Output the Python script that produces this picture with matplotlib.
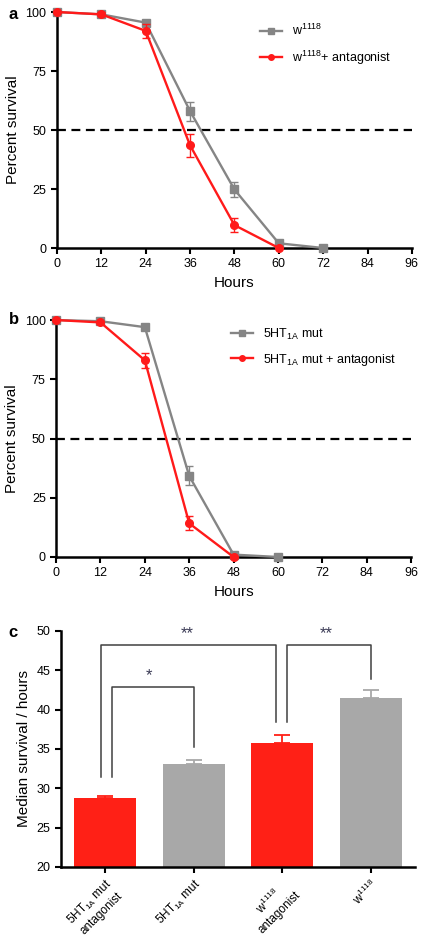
import matplotlib
matplotlib.use('Agg')
import matplotlib.pyplot as plt
from matplotlib.lines import Line2D
import numpy

plt.rcParams['font.family'] = ['Liberation Sans', 'DejaVu Sans']
plt.rcParams['mathtext.fontset'] = 'custom'
plt.rcParams['mathtext.rm'] = 'Liberation Sans'

GREY_LINE = '#858585'
RED = '#ff1a1a'
GREY_BAR = '#a8a8a8'
RED_BAR = '#ff2016'

# panel a
hours_a = [0, 12, 24, 36, 48, 60, 72]
w_surv = [100, 99, 95.5, 58, 24.8, 2, 0]
w_err = [0, 0.8, 1.2, 4, 3.2, 0, 0]
hours_a_ant = [0, 12, 24, 36, 48, 60]
w_ant_surv = [100, 99, 92, 43.5, 9.7, 0]
w_ant_err = [0, 0.8, 3, 4.8, 3, 0]

# panel b
hours_b = [0, 12, 24, 36, 48, 60]
mut_surv = [100, 99.5, 97, 34.2, 1, 0]
mut_err = [0, 0.5, 0.8, 4, 0, 0]
hours_b_ant = [0, 12, 24, 36, 48]
mut_ant_surv = [100, 99, 83, 14.2, 0]
mut_ant_err = [0, 0.5, 3.3, 3, 0]

# panel c
bar_labels = ['5HT$_{\\mathregular{1A}}$ mut\nantagonist', '5HT$_{\\mathregular{1A}}$ mut',
              'w$^{\\mathregular{1118}}$\nantagonist', 'w$^{\\mathregular{1118}}$']
medians = [28.8, 33.1, 35.8, 41.5]
median_err = [0.2, 0.45, 1.0, 1.0]
bar_colors = [RED_BAR, GREY_BAR, RED_BAR, GREY_BAR]


def style_axes(ax):
    for s in ['top', 'right']:
        ax.spines[s].set_visible(False)
    for s in ['left', 'bottom']:
        ax.spines[s].set_linewidth(1.8)
    ax.tick_params(width=1.5, length=4, labelsize=9, direction='out')


def survival_panel(ax, xg, yg, eg, xr, yr, er, lab_g, lab_r, legend_anchor):
    ax.axhline(50, color='black', ls=(0, (4, 2.5)), lw=1.6, zorder=1)
    ax.errorbar(xg, yg, yerr=eg, color=GREY_LINE, marker='s', ms=5.5, lw=1.7,
                capsize=3, elinewidth=1, zorder=3, clip_on=False)
    ax.errorbar(xr, yr, yerr=er, color=RED, marker='o', ms=5.5, lw=1.7,
                capsize=3, elinewidth=1, zorder=4, clip_on=False)
    ax.set_xlim(0, 96)
    ax.set_ylim(0, 100)
    ax.set_xticks(numpy.arange(0, 97, 12))
    ax.set_yticks([0, 25, 50, 75, 100])
    ax.set_xlabel('Hours', fontsize=11)
    ax.set_ylabel('Percent survival', fontsize=11)
    style_axes(ax)
    handles = [Line2D([], [], color=GREY_LINE, marker='s', ms=4, lw=1.7),
               Line2D([], [], color=RED, marker='o', ms=4, lw=1.7)]
    ax.legend(handles, [lab_g, lab_r], loc='upper left', bbox_to_anchor=legend_anchor,
              frameon=False, fontsize=9, handlelength=1.8, handletextpad=0.8,
              labelspacing=0.8)


fig = plt.figure(figsize=(4.22, 9.38), dpi=100)

axa = fig.add_axes([0.135, 0.7356, 0.841, 0.2516])
survival_panel(axa, hours_a, w_surv, w_err, hours_a_ant, w_ant_surv, w_ant_err,
               'w$^{\\mathregular{1118}}$', 'w$^{\\mathregular{1118}}$+ antagonist', (0.54, 1.0))
fig.text(0.02, 0.985, 'a', fontsize=12, fontweight='bold', va='center')

axb = fig.add_axes([0.133, 0.4062, 0.841, 0.2526])
survival_panel(axb, hours_b, mut_surv, mut_err, hours_b_ant, mut_ant_surv, mut_ant_err,
               '5HT$_{\\mathregular{1A}}$ mut', '5HT$_{\\mathregular{1A}}$ mut + antagonist', (0.46, 1.02))
fig.text(0.02, 0.659, 'b', fontsize=12, fontweight='bold', va='center')

# panel c
axc = fig.add_axes([0.1445, 0.0757, 0.8385, 0.2516])
xpos = numpy.arange(len(medians))
axc.bar(xpos, medians, width=0.7, color=bar_colors, zorder=2)
for i in range(len(medians)):
    axc.errorbar(xpos[i], medians[i], yerr=[[0], [median_err[i]]], color=bar_colors[i],
                 capsize=6, elinewidth=1.3, capthick=1.3, zorder=1)
axc.set_xlim(-0.5, 3.5)
axc.set_ylim(20, 50)
axc.set_yticks([20, 25, 30, 35, 40, 45, 50])
axc.set_ylabel('Median survival / hours', fontsize=11)
style_axes(axc)
axc.set_xticks(xpos)
axc.set_xticklabels(bar_labels, rotation=45, ha='right', rotation_mode='anchor',
                    multialignment='center', fontsize=8.5)
axc.tick_params(axis='x', pad=3)

# significance brackets
brk = '#404040'
star_col = '#3a3a55'


def bracket(x1, x2, y_top, y1, y2, txt, tx):
    axc.plot([x1, x1, x2, x2], [y1, y_top, y_top, y2], color=brk, lw=1.1, clip_on=False)
    axc.text(tx, y_top + 0.5, txt, ha='center', va='bottom', fontsize=12, color=star_col)


bracket(-0.05, 1.93, 48.2, 31.4, 38.4, '**', 0.93)
bracket(2.05, 3.0, 48.2, 38.4, 43.9, '**', 2.5)
bracket(0.08, 1.0, 42.9, 31.4, 35.3, '*', 0.5)
fig.text(0.02, 0.326, 'c', fontsize=12, fontweight='bold', va='center')

fig.savefig('out.png', dpi=100)
